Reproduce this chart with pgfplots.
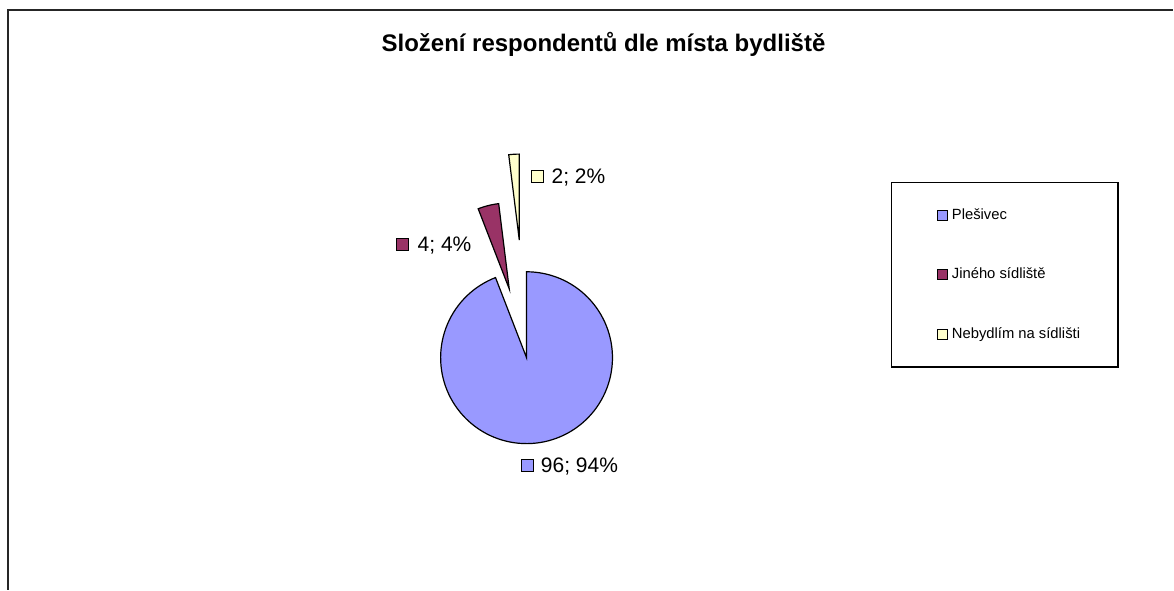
\documentclass[border=0pt]{standalone}
\usepackage{pgfplots}
\usepackage{pgfplotstable}
\pgfplotsset{compat=1.18}
\usepackage{fontspec}
\setmainfont{Liberation Sans}
\definecolor{pieA}{RGB}{153,153,255}
\definecolor{pieB}{RGB}{153,51,102}
\definecolor{pieC}{RGB}{255,255,204}

\pgfplotstableread{
label value
Plesivec 96
Jineho 4
Nebydlim 2
}\piedata

\pgfplotstablegetelem{0}{value}\of\piedata \let\vA\pgfplotsretval
\pgfplotstablegetelem{1}{value}\of\piedata \let\vB\pgfplotsretval
\pgfplotstablegetelem{2}{value}\of\piedata \let\vC\pgfplotsretval

% geometry (pixel units of the reference, y upwards)
\def\cx{527}\def\cy{232}\def\r{86}
\def\dB{71}\def\dC{118}

\pgfmathsetmacro{\tot}{\vA+\vB+\vC}
\pgfmathsetmacro{\aA}{360*(\vA/\tot)}
\pgfmathsetmacro{\aB}{360*(\vB/\tot)}
\pgfmathsetmacro{\aC}{360*(\vC/\tot)}
% slices run clockwise from 90 degrees
\pgfmathsetmacro{\sA}{90-\aA}
\pgfmathsetmacro{\eA}{90}
\pgfmathsetmacro{\sB}{90-\aA-\aB}
\pgfmathsetmacro{\eB}{90-\aA}
\pgfmathsetmacro{\sC}{90-\aA-\aB-\aC}
\pgfmathsetmacro{\eC}{90-\aA-\aB}
\pgfmathsetmacro{\mB}{(\sB+\eB)/2}
\pgfmathsetmacro{\mC}{(\sC+\eC)/2}
\pgfmathsetmacro{\bx}{\cx+\dB*cos(\mB)}
\pgfmathsetmacro{\by}{\cy+\dB*sin(\mB)}
\pgfmathsetmacro{\ccx}{\cx+\dC*cos(\mC)}
\pgfmathsetmacro{\ccy}{\cy+\dC*sin(\mC)}

\begin{document}
\begin{tikzpicture}
\begin{axis}[
  scale only axis, width=587pt, height=295pt,
  xmin=0, xmax=1174, ymin=0, ymax=590,
  hide axis, clip=false,
  legend cell align=left,
  legend image code/.code={\path (0pt,0pt); \draw[#1,draw=black,line width=0.5pt] (5.5pt,-2.5pt) rectangle (10.5pt,2.5pt);},
  legend style={at={(axis cs:892,408)}, anchor=north west, draw=black, line width=0.6pt,
    font=\fontsize{7.4}{9}\selectfont, row sep=18.8pt, inner xsep=17pt, inner ysep=11pt},
]
\path (axis cs:0,0) rectangle (axis cs:1174,590);

\addplot[fill=pieA, draw=black, line width=0.6pt, domain=\sA:\eA, samples=120]
  ({\cx+\r*cos(x)}, {\cy+\r*sin(x)}) -- (\cx,\cy) -- cycle;
\addplot[fill=pieB, draw=black, line width=0.6pt, domain=\sB:\eB, samples=20]
  ({\bx+\r*cos(x)}, {\by+\r*sin(x)}) -- (\bx,\by) -- cycle;
\addplot[fill=pieC, draw=black, line width=0.6pt, domain=\sC:\eC, samples=20]
  ({\ccx+\r*cos(x)}, {\ccy+\r*sin(x)}) -- (\ccx,\ccy) -- cycle;
\legend{Plešivec, Jiného sídliště, Nebydlím na sídlišti}

% data label keys
\addplot[only marks, mark=square*, mark size=3pt, mark options={fill=pieA, draw=black, line width=0.5pt}, forget plot]
  coordinates {(527.5,124)};
\addplot[only marks, mark=square*, mark size=3pt, mark options={fill=pieB, draw=black, line width=0.5pt}, forget plot]
  coordinates {(403.3,344.8)};
\addplot[only marks, mark=square*, mark size=3pt, mark options={fill=pieC, draw=black, line width=0.5pt}, forget plot]
  coordinates {(537.5,413.1)};

\node[anchor=base west, inner sep=0pt, font=\fontsize{10.5}{12}\selectfont] at (axis cs:541,117.3) {\vA; 94\%};
\node[anchor=base west, inner sep=0pt, font=\fontsize{10.5}{12}\selectfont] at (axis cs:417.7,338.3) {\vB; 4\%};
\node[anchor=base west, inner sep=0pt, font=\fontsize{10.5}{12}\selectfont] at (axis cs:551.7,406.6) {\vC; 2\%};

\node[anchor=base, inner sep=0pt, font=\bfseries\fontsize{12}{14}\selectfont] at (axis cs:604,538.3)
  {Složení respondentů dle místa bydliště};

\draw[line width=1pt, black!85] (axis cs:8,0) -- (axis cs:8,579.5) -- (axis cs:1174,579.5);
\end{axis}
\end{tikzpicture}
\end{document}
